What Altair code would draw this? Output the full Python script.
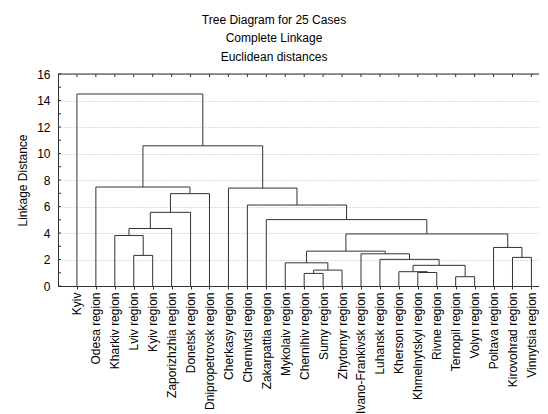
import altair as alt
import pandas as pd

# Leaves in dendrogram order
leaves = [
    "Kyiv", "Odesa region", "Kharkiv region", "Lviv region", "Kyiv region",
    "Zaporizhzhia region", "Donetsk region", "Dnipropetrovsk region",
    "Cherkasy region", "Chernivtsi region", "Zakarpattia region",
    "Mykolaiv region", "Chernihiv region", "Sumy region", "Zhytomyr region",
    "Ivano-Frankivsk region", "Luhansk region", "Kherson region",
    "Khmelnytskyi region", "Rivne region", "Ternopil region", "Volyn region",
    "Poltava region", "Kirovohrad region", "Vinnytsia region",
]

# Merges: new node ids start at 25 (scipy-style)
merge_left = [20, 12, 18, 17, 26, 28, 11, 16, 23, 3, 15, 31, 22, 2, 36, 38, 10, 40, 9, 42, 8, 1, 46, 0]
merge_right = [21, 13, 19, 27, 14, 25, 29, 30, 24, 4, 32, 35, 33, 34, 37, 5, 39, 6, 41, 7, 43, 44, 45, 47]
merge_height = [0.70, 0.95, 1.02, 1.08, 1.20, 1.56, 1.75, 2.01, 2.16, 2.31, 2.43, 2.63,
                2.91, 3.81, 3.93, 4.34, 5.01, 5.56, 6.11, 6.97, 7.39, 7.47, 10.58, 14.49]

title_lines = ["Tree Diagram for 25 Cases", "Complete Linkage", "Euclidean distances"]
y_ticks = list(range(0, 17, 2))
y_minor = list(range(0, 17))

# Build segments from the merge table
n = len(leaves)
pos = {i: float(i) for i in range(n)}
hgt = {i: 0.0 for i in range(n)}
segs = []
for k, (a, b, h) in enumerate(zip(merge_left, merge_right, merge_height)):
    node = n + k
    xa, xb = pos[a], pos[b]
    segs.append({"x": xa, "x2": xa, "y": hgt[a], "y2": h})
    segs.append({"x": xb, "x2": xb, "y": hgt[b], "y2": h})
    segs.append({"x": xa, "x2": xb, "y": h, "y2": h})
    pos[node] = (xa + xb) / 2
    hgt[node] = h
seg_df = pd.DataFrame(segs)

leaf_df = pd.DataFrame({"idx": list(range(n)), "name": leaves})
yt_df = pd.DataFrame({"v": y_minor})
one_df = pd.DataFrame({"k": [0]})

W, H = 481, 212
FONT = "Liberation Sans"
FS = 12
xscale = alt.Scale(domain=[-1.0, 24.4], nice=False, zero=False)
yscale = alt.Scale(domain=[0, 16], nice=False)

label_array = "[" + ",".join("'" + s + "'" for s in leaves) + "]"

x_axis = alt.Axis(values=list(range(n)),
                  labelExpr="datum.value >= 0 ? " + label_array + "[round(datum.value)] : ''",
                  labelAngle=-90, labelFont=FONT, labelFontSize=FS, labelColor="black",
                  labelPadding=3, tickSize=3, tickColor="#333", domainColor="#333",
                  grid=False, title=None, labelOverlap=False, labelBound=False,
                  labelFlush=False)
y_axis = alt.Axis(values=y_ticks, labelFont=FONT, labelFontSize=FS, labelColor="black",
                  labelPadding=8, tickSize=0, domainColor="#333", labelOverlap=False,
                  labelFlush=False,
                  grid=True, gridColor="#bbbbbb", gridDash=[1, 2], gridWidth=1,
                  title="Linkage Distance", titleFont=FONT, titleFontSize=FS,
                  titleFontWeight="normal", titleColor="black", titlePadding=7)

tree = alt.Chart(seg_df).mark_rule(color="#333", strokeWidth=1).encode(
    x=alt.X("x:Q", scale=xscale, axis=x_axis), x2="x2:Q",
    y=alt.Y("y:Q", scale=yscale, axis=y_axis), y2="y2:Q",
)

top_line = alt.Chart(one_df).mark_rule(color="#333").encode(
    x=alt.value(0), x2=alt.value(W), y=alt.value(0)
)
top_ticks = alt.Chart(leaf_df).mark_rule(color="#333").encode(
    x=alt.X("idx:Q", scale=xscale, axis=x_axis), y=alt.value(0), y2=alt.value(3)
)
left_ticks = alt.Chart(yt_df).mark_rule(color="#333").encode(
    y=alt.Y("v:Q", scale=yscale, axis=y_axis), x=alt.value(0), x2=alt.value(3)
)

title_y = [-54.5, -36.5, -17.5]
title_layers = [
    alt.Chart(pd.DataFrame({"t": [t]})).mark_text(font=FONT, fontSize=FS, color="black",
                                                  align="center", baseline="middle").encode(
        x=alt.value(216), y=alt.value(ty), text="t:N")
    for t, ty in zip(title_lines, title_y)
]

chart = alt.layer(tree, top_line, top_ticks, left_ticks, *title_layers).properties(
    width=W, height=H,
    autosize=alt.AutoSizeParams(type="none"),
    padding={"left": 50, "top": 66, "right": 0, "bottom": 128},
).configure_view(stroke=None).configure(background="white").configure_axis(labelOverlap=False)

chart.save("out.html", embed_options={"renderer": "svg", "actions": False})
